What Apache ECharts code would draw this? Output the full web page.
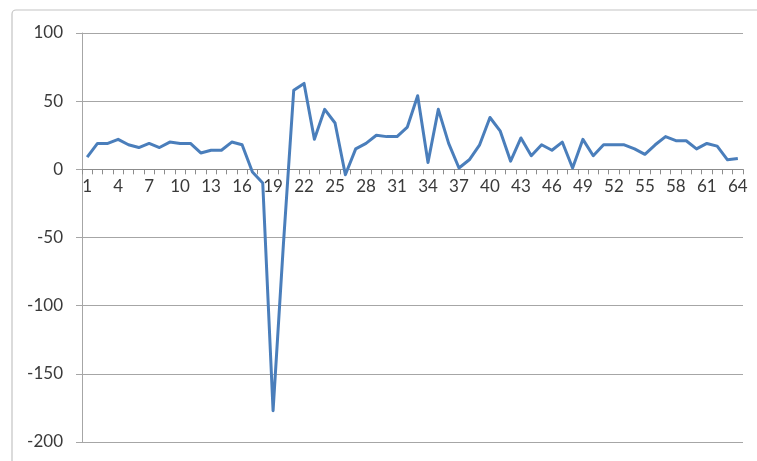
<!DOCTYPE html>
<html>
<head>
<meta charset="utf-8">
<script src="https://cdn.jsdelivr.net/npm/echarts@6/dist/echarts.min.js"></script>
<style>
  html, body { margin: 0; padding: 0; background: #ffffff; }
  #chart { width: 757px; height: 461px; }
</style>
</head>
<body>
<div id="chart"></div>
<script>
// Sample index 1..64
const categories = Array.from({ length: 64 }, (_, i) => String(i + 1));

// Measured values per sample
const values = [
  9, 19, 19, 22, 18, 16, 19, 16, 20, 19,
  19, 12, 14, 14, 20, 18, -2, -10, -177, -55,
  58, 63, 22, 44, 34, -4, 15, 19, 25, 24,
  24, 31, 54, 5, 44, 19, 1, 7, 18, 38,
  28, 6, 23, 10, 18, 14, 20, 1, 22, 10,
  18, 18, 18, 15, 11, 18, 24, 21, 21, 15,
  19, 17, 7, 8
];

// Value axis range
const yMin = -200;
const yMax = 100;
const yStep = 50;

const W = 757, H = 461;
const gridLeft = 82, gridRight = 14, gridTop = 33, gridBottom = 19;
const plotH = H - gridTop - gridBottom;
// distance from the bottom of the plot up to the zero line, so the
// category axis (line, ticks and labels) sits on y = 0
const zeroFromBottom = plotH * (0 - yMin) / (yMax - yMin);

const chart = echarts.init(document.getElementById('chart'), null, { renderer: 'canvas' });

const labelFont = {
  fontFamily: 'Lato, "Open Sans", sans-serif',
  fontSize: 17,
  color: '#3a3a3a'
};

chart.setOption({
  backgroundColor: '#ffffff',
  animation: false,
  graphic: [
    {
      type: 'rect',
      shape: { x: 12, y: 10, width: 800, height: 520, r: 4 },
      style: { fill: 'none', stroke: '#c4c4c4', lineWidth: 1.2 },
      z: -1
    }
  ],
  grid: { left: gridLeft, right: gridRight, top: gridTop, bottom: gridBottom, containLabel: false },
  xAxis: {
    type: 'category',
    data: categories,
    boundaryGap: true,
    position: 'bottom',
    offset: -zeroFromBottom,
    axisLine: { onZero: false, lineStyle: { color: '#8c8c8c', width: 1.2 } },
    axisTick: { show: true, interval: 0, length: 5, lineStyle: { color: '#8c8c8c' } },
    axisLabel: Object.assign({ interval: 2, margin: 9 }, labelFont),
    splitLine: { show: false }
  },
  yAxis: {
    type: 'value',
    min: yMin,
    max: yMax,
    interval: yStep,
    axisLine: { show: true, lineStyle: { color: '#a6a6a6', width: 1 } },
    axisTick: { show: true, length: 6, lineStyle: { color: '#a6a6a6' } },
    axisLabel: Object.assign({ margin: 19 }, labelFont),
    splitLine: { show: true, lineStyle: { color: '#a6a6a6', width: 1.2 } }
  },
  series: [
    {
      type: 'line',
      data: values,
      showSymbol: false,
      smooth: false,
      lineStyle: { color: '#4a7ebb', width: 3, join: 'round' },
      z: 3
    }
  ]
});
</script>
</body>
</html>
